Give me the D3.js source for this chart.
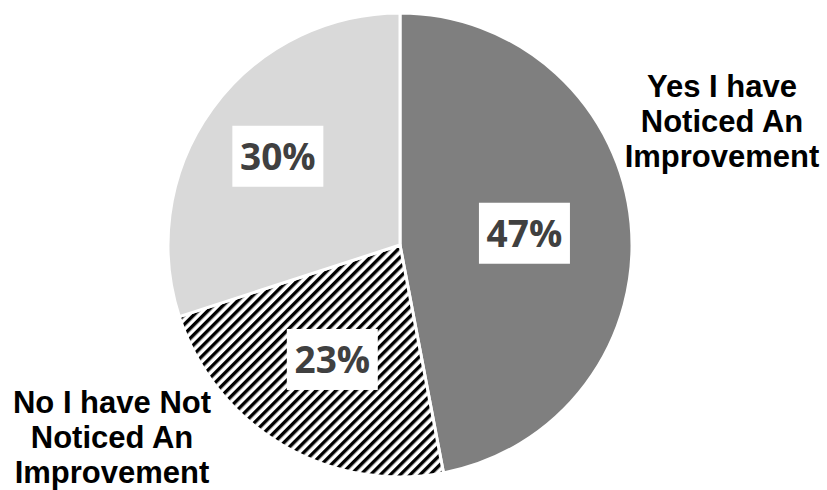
<!DOCTYPE html>
<html>
<head>
<meta charset="utf-8">
<script src="https://cdn.jsdelivr.net/npm/d3@7"></script>
<style>
  body { margin: 0; background: #fff; }
  svg { display: block; }
</style>
</head>
<body>
<div id="chart"></div>
<script>
// data
const categories = ["Yes I have Noticed An Improvement", "No I have Not Noticed An Improvement", "Other"];
const values = [47, 23, 30];
const valueLabels = ["47%", "23%", "30%"];

const width = 827,
      height = 490;
const cx = 400, cy = 245, radius = 232;

// where the white % boxes sit (distance from center), per slice
const labelRadius = [125, 133, 151];
const fills = ["#7f7f7f", "url(#hatch)", "#d9d9d9"];

const svg = d3.select("#chart").append("svg")
    .attr("width", width)
    .attr("height", height);

const defs = svg.append("defs");
const pat = defs.append("pattern")
    .attr("id", "hatch")
    .attr("patternUnits", "userSpaceOnUse")
    .attr("width", 7)
    .attr("height", 7)
    .attr("patternTransform", "rotate(45)");
pat.append("rect").attr("width", 7).attr("height", 7).attr("fill", "#fff");
pat.append("rect").attr("width", 3.4).attr("height", 7).attr("fill", "#000");

let pie = d3.pie().sort(null).value(d => d);
const arcs = pie(values);

let arc = d3.arc().innerRadius(0).outerRadius(radius);

const g = svg.append("g").attr("transform", `translate(${cx},${cy})`);

g.selectAll("path")
  .data(arcs)
  .join("path")
    .attr("d", arc)
    .attr("fill", (d, i) => fills[i])
    .attr("stroke", "#fff")
    .attr("stroke-width", 3)
    .attr("stroke-linejoin", "round");

// value boxes
const boxW = 91, boxH = 61;
const lab = g.selectAll(".vlabel")
  .data(arcs)
  .join("g")
    .attr("class", "vlabel")
    .attr("transform", (d, i) => {
      const a = (d.startAngle + d.endAngle) / 2;
      const r = labelRadius[i];
      return `translate(${r * Math.sin(a)},${-r * Math.cos(a)})`;
    });

lab.append("rect")
    .attr("x", -boxW / 2)
    .attr("y", -boxH / 2)
    .attr("width", boxW)
    .attr("height", boxH)
    .attr("fill", "#fff");

lab.append("text")
    .attr("text-anchor", "middle")
    .attr("y", 13.5)
    .style("font", "700 37px 'Open Sans', sans-serif")
    .attr("fill", "#404040")
    .text((d, i) => valueLabels[i]);

// category labels
const catLabels = [
  { lines: ["Yes I have", "Noticed An", "Improvement"], x: 722, y: 97 },
  { lines: ["No I have Not", "Noticed An", "Improvement"], x: 112, y: 413 }
];

catLabels.forEach(c => {
  const t = svg.append("text")
      .attr("text-anchor", "middle")
      .style("font", "700 31px 'Liberation Sans', Arial, sans-serif")
      .attr("fill", "#000");
  c.lines.forEach((l, i) => {
    t.append("tspan")
      .attr("x", c.x)
      .attr("y", c.y + i * 35)
      .text(l);
  });
});
</script>
</body>
</html>
